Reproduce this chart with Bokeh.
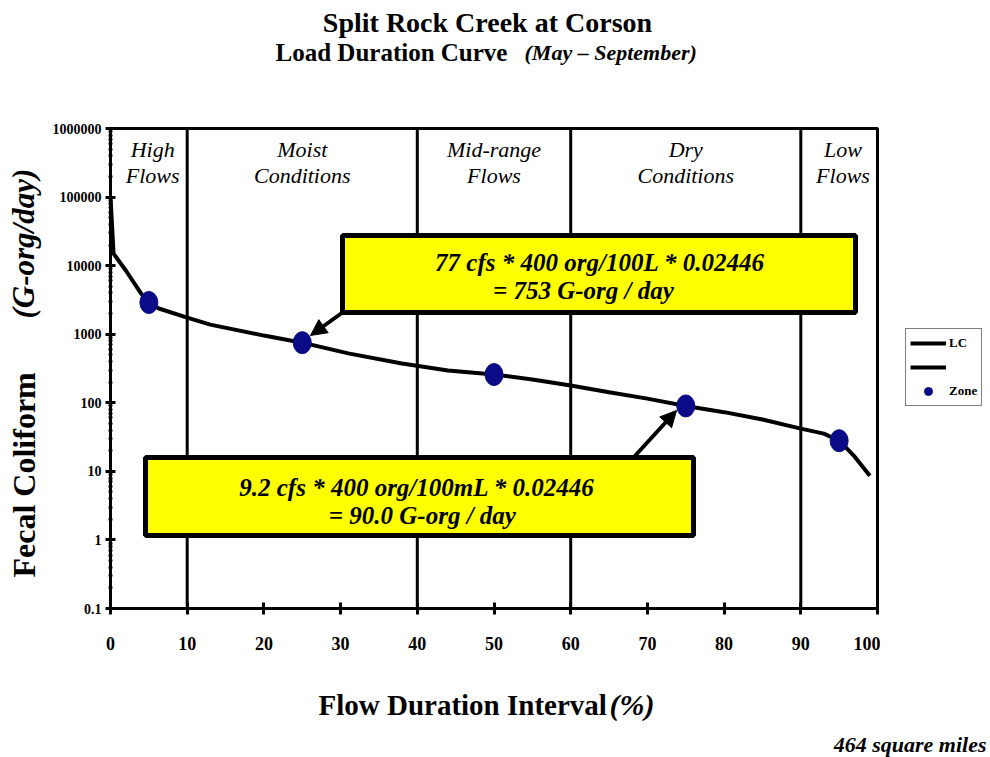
import numpy as np
from bokeh.plotting import figure
from bokeh.layouts import column, row
from bokeh.models import (Label, Span, Arrow, NormalHead, Legend, LegendItem,
                          FixedTicker, Range1d, BoxAnnotation)
from bokeh.embed import file_html
from bokeh.resources import INLINE

# ---------------- data ----------------
flow_pct = [0, 0.4, 2, 4, 5, 6.3, 10, 13, 20, 25, 31, 38, 44, 50, 55, 60, 65, 70, 75,
            80, 85, 90, 93, 95, 97, 99]
load_lc = [100000, 15000, 8500, 3900, 2900, 2370, 1750, 1380, 955, 753, 525, 374, 295,
           258, 219, 179, 142, 115, 90, 73, 57, 42, 35.5, 28, 16.5, 8.6]
zone_pct = [5, 25, 50, 75, 95]
zone_load = [2900, 753, 258, 90, 28]
zone_bounds = [10, 40, 60, 90]
zone_label_x = [5.5, 25, 50, 75, 95.5]
zone_names_1 = ["High", "Moist", "Mid-range", "Dry", "Low"]
zone_names_2 = ["Flows", "Conditions", "Flows", "Conditions", "Flows"]
x_ticks = [0, 10, 20, 30, 40, 50, 60, 70, 80, 90, 100]
y_ticks = [0.1, 1, 10, 100, 1000, 10000, 100000, 1000000]
y_tick_labels = ["0.1", "1", "10", "100", "1000", "10000", "100000", "1000000"]

SERIF = "Liberation Serif"
ZONE_COLOR = "#0b0b88"
W, H = 990, 757
TOP_H = 118           # title strip height
LEFT_W = 48           # y-title strip width
RIGHT_W = 110         # legend strip width
MAIN_TOP, MAIN_BOT = 118, 670
BOT_H = H - MAIN_BOT

# reference-pixel -> data helpers for annotations inside the main frame
X0, X1 = 110, 877
Y0, Y1 = 128, 608
def dx(px):
    return (px - X0) / (X1 - X0) * 100.0
def dy(py):
    return 10 ** (6 - (py - Y0) / (Y1 - Y0) * 7.0)


def strip(width, height, top=0, bottom=0):
    inner = height - top - bottom
    f = figure(width=width, height=height, output_backend="svg", toolbar_location=None,
               x_range=Range1d(0, width), y_range=Range1d(0, inner),
               x_axis_location=None, y_axis_location=None, min_border=0,
               min_border_top=top, min_border_bottom=bottom,
               outline_line_color=None, background_fill_color="white",
               border_fill_color="white")
    f.xgrid.visible = False
    f.ygrid.visible = False
    return f


def txt(fig, x, y, text, size, style="bold", align="left", angle=0.0):
    fig.add_layout(Label(x=x, y=y, text=text, angle=angle, text_align=align,
                         text_baseline="middle", text_font=SERIF, text_color="black",
                         text_font_style=style, text_font_size=size))


# ---------------- main chart ----------------
main_w = W - LEFT_W - RIGHT_W
main_h = MAIN_BOT - MAIN_TOP
p = figure(width=main_w, height=main_h, output_backend="svg", toolbar_location=None,
           y_axis_type="log", x_range=Range1d(0, 100), y_range=Range1d(0.1, 1000000),
           min_border_left=X0 - LEFT_W, min_border_right=LEFT_W + main_w - X1,
           min_border_top=Y0 - MAIN_TOP, min_border_bottom=MAIN_BOT - Y1,
           background_fill_color="white", border_fill_color="white")
p.xgrid.visible = False
p.ygrid.visible = False
p.outline_line_color = "black"
p.outline_line_width = 3

p.xaxis.ticker = FixedTicker(ticks=x_ticks)
p.xaxis.axis_line_width = 3
p.xaxis.major_tick_line_width = 3
p.xaxis.major_tick_in = 6
p.xaxis.major_tick_out = 6
p.xaxis.minor_tick_line_color = None
p.xaxis.major_label_standoff = 22
p.xaxis.major_label_text_font = SERIF
p.xaxis.major_label_text_font_style = "bold"
p.xaxis.major_label_text_font_size = "18px"
p.xaxis.major_label_text_color = "black"

minor = [m * 10.0 ** k for k in range(-1, 6) for m in range(2, 10)]
p.yaxis.ticker = FixedTicker(ticks=y_ticks, minor_ticks=minor)
p.yaxis.major_label_overrides = {t: s for t, s in zip(y_ticks, y_tick_labels)}
p.yaxis.axis_line_width = 3
p.yaxis.major_tick_line_width = 3
p.yaxis.major_tick_in = 5
p.yaxis.major_tick_out = 5
p.yaxis.minor_tick_line_width = 2
p.yaxis.minor_tick_in = 2
p.yaxis.minor_tick_out = 2
p.yaxis.major_label_standoff = 4
p.yaxis.major_label_text_font = SERIF
p.yaxis.major_label_text_font_style = "bold"
p.yaxis.major_label_text_font_size = "14px"
p.yaxis.major_label_text_color = "black"

for b in zone_bounds:
    p.add_layout(Span(location=b, dimension="height", line_color="black", line_width=3))

lc = p.line(flow_pct, load_lc, line_color="black", line_width=4)
zone = p.ellipse(zone_pct, zone_load, width=18, height=22, width_units="screen",
                 height_units="screen", fill_color=ZONE_COLOR, line_color=ZONE_COLOR)

for zx, n1, n2 in zip(zone_label_x, zone_names_1, zone_names_2):
    txt(p, zx, dy(149), n1, "22px", style="italic", align="center")
    txt(p, zx, dy(175), n2, "22px", style="italic", align="center")

box_style = dict(fill_color="#ffff00", fill_alpha=1.0, line_color="black",
                 line_width=5, line_alpha=1.0)
p.add_layout(BoxAnnotation(left=dx(342), right=dx(855), top=dy(235), bottom=dy(312),
                           **box_style))
p.add_layout(BoxAnnotation(left=dx(145), right=dx(693), top=dy(457), bottom=dy(535),
                           **box_style))
txt(p, dx(612), dy(262), "77 cfs  *  400 org/100L  *  0.02446", "25px", "bold italic", "center")
txt(p, dx(586), dy(290), "=  753 G-org / day", "25px", "bold italic", "center")
txt(p, dx(429), dy(487), "9.2 cfs  *  400 org/100mL  *  0.02446", "25px", "bold italic", "center")
txt(p, dx(425), dy(515), "=  90.0 G-org / day", "25px", "bold italic", "center")

head = dict(size=16, fill_color="black", line_color="black")
p.add_layout(Arrow(end=NormalHead(**head), x_start=dx(342), y_start=dy(312),
                   x_end=dx(310), y_end=dy(335), line_width=4, line_color="black"))
p.add_layout(Arrow(end=NormalHead(**head), x_start=dx(633), y_start=dy(457),
                   x_end=dx(676), y_end=dy(410), line_width=4, line_color="black"))

# ---------------- title strip ----------------
top = strip(W, TOP_H)
txt(top, 487, TOP_H - 22, "Split Rock Creek at Corson", "28px", "bold", "center")
txt(top, 275, TOP_H - 52, "Load Duration Curve", "25px", "bold", "left")
txt(top, 524, TOP_H - 52, "(May \u2013 September)", "22px", "bold italic", "left")

# ---------------- y-title strip (frame aligned with main frame: py 128..608) ----------
left = strip(LEFT_W, main_h, top=Y0 - MAIN_TOP, bottom=MAIN_BOT - Y1)
txt(left, 23, Y1 - 577, "Fecal Coliform", "32px", "bold", "left", np.pi / 2)
txt(left, 23, Y1 - 318, "(G-org/day)", "31px", "bold italic", "left", np.pi / 2)

# ---------------- legend strip ----------------
right = strip(RIGHT_W, main_h, top=Y0 - MAIN_TOP, bottom=MAIN_BOT - Y1)
lc_key = right.line(flow_pct, load_lc, line_color="black", line_width=4, visible=False)
zone_key = right.scatter(zone_pct, zone_load, size=8, marker="circle",
                         fill_color=ZONE_COLOR, line_color=ZONE_COLOR, visible=False)
legend = Legend(items=[LegendItem(label="LC", renderers=[lc_key]),
                       LegendItem(label=" ", renderers=[lc_key]),
                       LegendItem(label="Zone", renderers=[zone_key])],
                location=(905 - (W - RIGHT_W), Y1 - 406),
                border_line_color="black", border_line_width=1.5,
                label_text_font=SERIF, label_text_font_style="bold",
                label_text_color="black", label_text_font_size="13px",
                glyph_width=36, glyph_height=20, label_height=20, label_standoff=3,
                spacing=4, padding=4, margin=0,
                background_fill_color="white", background_fill_alpha=1.0)
right.add_layout(legend)

# ---------------- x-title strip ----------------
bottom = strip(W, BOT_H)
txt(bottom, 318, H - 704, "Flow Duration Interval", "29px", "bold", "left")
txt(bottom, 609, H - 704, "(%)", "30px", "bold italic", "left")
txt(bottom, 986, H - 744, "464 square miles", "22px", "bold italic", "right")

layout = column(top, row(left, p, right), bottom)
open("out.html", "w").write(file_html(layout, INLINE))
